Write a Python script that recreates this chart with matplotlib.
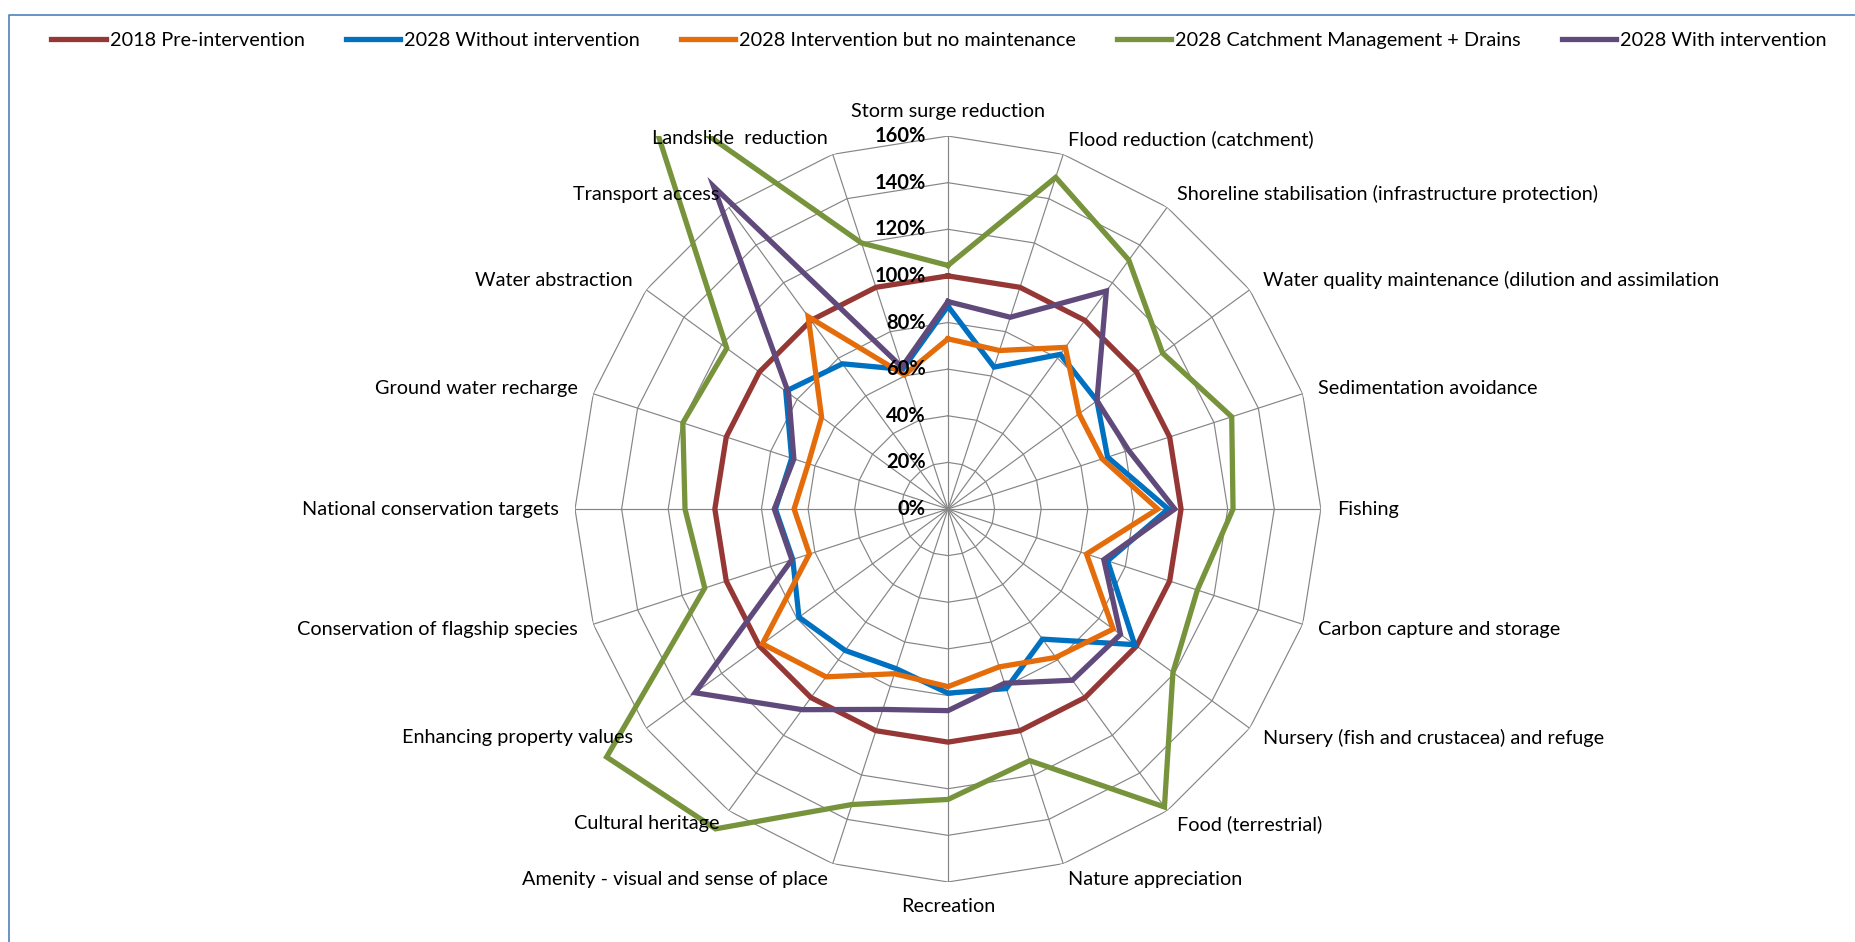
import numpy as np
import matplotlib
matplotlib.use('Agg')
import matplotlib.pyplot as plt
import matplotlib.transforms as mtransforms
from matplotlib.patches import Rectangle
from matplotlib.lines import Line2D

plt.rcParams['font.family'] = ['Lato', 'DejaVu Sans']

# spokes, clockwise from the top
categories = ['Storm surge reduction', 'Flood reduction (catchment)',
              'Shoreline stabilisation (infrastructure protection)',
              'Water quality maintenance (dilution and assimilation',
              'Sedimentation avoidance', 'Fishing', 'Carbon capture and storage',
              'Nursery (fish and crustacea) and refuge', 'Food (terrestrial)',
              'Nature appreciation', 'Recreation', 'Amenity - visual and sense of place',
              'Cultural heritage', 'Enhancing property values',
              'Conservation of flagship species', 'National conservation targets',
              'Ground water recharge', 'Water abstraction', 'Transport access',
              'Landslide  reduction']

# values in %
pre_2018 = [100, 100, 100, 100, 100, 100, 100, 100, 100, 100,
            100, 100, 100, 100, 100, 100, 100, 100, 100, 100]
without_2028 = [87, 64, 82, 79, 72, 94.5, 72, 99, 69, 81,
                79, 72, 75, 79, 70, 74, 70.5, 86, 77, 63]
no_maint_2028 = [73, 71.5, 85.7, 69.5, 69.6, 90, 62.5, 87.6, 78.7, 71.2,
                 76.2, 74.3, 89, 98.4, 62.5, 66, 63, 67, 102, 60.5]
catchment_2028 = [104.5, 149.6, 132, 113.8, 128, 122.3, 112.5, 119.3, 158, 113.5,
                  124.6, 133.3, 169.6, 181, 109.7, 112.8, 119.6, 117.3, 222, 120]
with_2028 = [89, 86.5, 115.6, 79, 81.5, 97.3, 70.3, 91.5, 90.8, 78.6,
             86.5, 90.4, 106.4, 134.1, 70.4, 74.5, 69.5, 84.5, 171, 64]

series = [('2018 Pre-intervention', pre_2018, '#953735'),
          ('2028 Without intervention', without_2028, '#0070C0'),
          ('2028 Intervention but no maintenance', no_maint_2028, '#E46C0A'),
          ('2028 Catchment Management + Drains', catchment_2028, '#77933C'),
          ('2028 With intervention', with_2028, '#604A7B')]

rings = [20, 40, 60, 80, 100, 120, 140, 160]

fig = plt.figure(figsize=(18.56, 9.42), dpi=100)
ax = fig.add_axes([0.3098, 0.0637, 0.4019, 0.7919], projection='polar')
ax.set_theta_zero_location('N')
ax.set_theta_direction(-1)
ax.set_ylim(0, 160)
ax.grid(False)
ax.spines['polar'].set_visible(False)
ax.set_xticks([])
ax.set_yticks([])

n = len(categories)
theta = np.arange(n) * 2 * np.pi / n
theta_c = np.append(theta, theta[0])

grid_col = '#858585'
for r in rings:
    ax.plot(theta_c, [r] * (n + 1), color=grid_col, lw=0.85, zorder=1)
for t in theta:
    ax.plot([t, t], [0, 160], color=grid_col, lw=0.85, zorder=1)

# lines beyond 160% are only cut at the plot area box, not at the circle
clip = Rectangle((0, 0), 1, 1, transform=ax.transAxes)
handles = []
for name, vals, col in series:
    ln, = ax.plot(theta_c, list(vals) + [vals[0]], color=col, lw=3.8,
                  label=name, zorder=3, solid_joinstyle='miter')
    ln.set_clip_path(clip)
    handles.append(ln)

fs = 14.3
# category labels
for t, lab in zip(theta, categories):
    s, c = np.sin(t), np.cos(t)
    if abs(s) < 0.01:
        ha = 'center'
        va = 'bottom' if c > 0 else 'top'
    else:
        ha = 'left' if s > 0 else 'right'
        va = 'center'
    ax.text(t, 167, lab, ha=ha, va=va, fontsize=fs, color='black')

# radial tick labels
off = mtransforms.ScaledTranslation(-0.22, 0, fig.dpi_scale_trans)
for r in [0] + rings:
    ax.text(0, r, f'{r}%', ha='right', va='center', fontsize=14.5,
            fontweight='bold', transform=ax.transData + off, zorder=5)

fig.legend(handles=handles, loc='center', bbox_to_anchor=(0.506, 0.957), ncol=5,
           frameon=False, fontsize=fs, handlelength=2.75, handletextpad=0.2,
           columnspacing=2.05)

# chart border (left and top edges visible)
fig.add_artist(Line2D([9 / 1856, 9 / 1856, 1.0], [0.0, 1 - 15 / 942, 1 - 15 / 942],
                      transform=fig.transFigure, color='#4F81BD', lw=1.2))

fig.savefig('out.png', dpi=100)
